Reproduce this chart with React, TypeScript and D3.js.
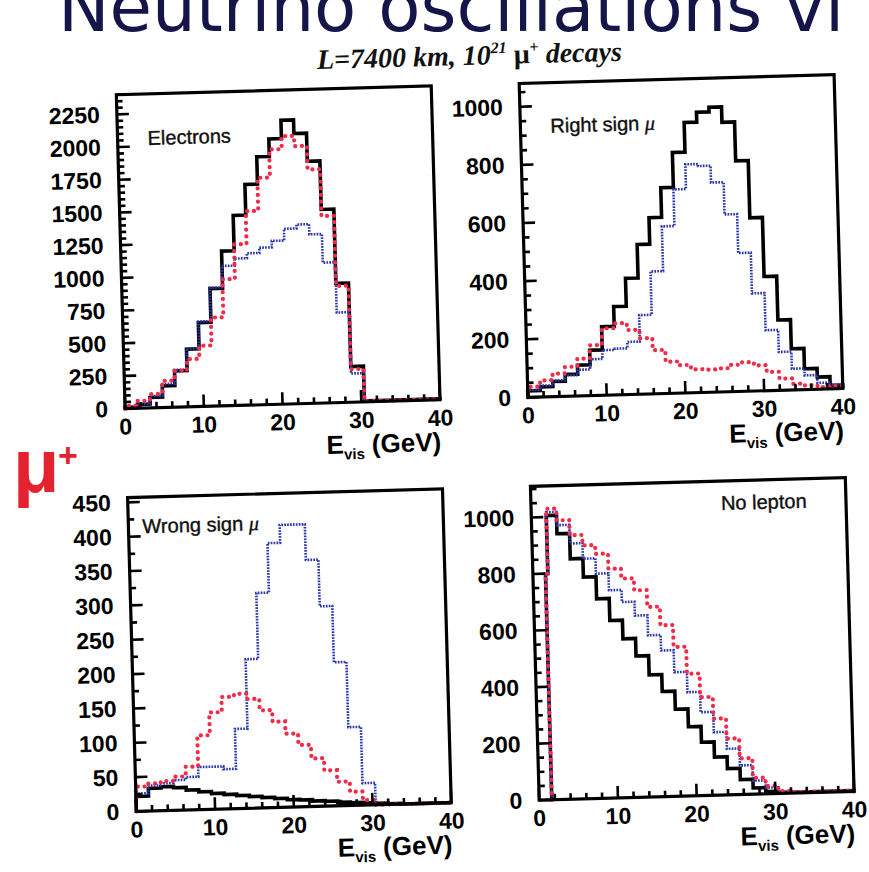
import React from "react";
import * as d3 from "d3";

const WIDTH = 869;
const HEIGHT = 872;

// Visible-energy binning (GeV): 25 bins of 1.6 GeV
const binEdges = [
  0, 1.6, 3.2, 4.8, 6.4, 8, 9.6, 11.2, 12.8, 14.4, 16, 17.6, 19.2, 20.8, 22.4,
  24, 25.6, 27.2, 28.8, 30.4, 32, 33.6, 35.2, 36.8, 38.4, 40,
];
// No-lepton histograms start above threshold with a narrow first bin
const noLeptonEdges = [
  1.6, 1.9, 3.2, 4.8, 6.4, 8, 9.6, 11.2, 12.8, 14.4, 16, 17.6, 19.2, 20.8, 22.4,
  24, 25.6, 27.2, 28.8, 30.4, 32, 33.6, 35.2, 36.8, 38.4, 40,
];

const xTicks = [0, 10, 20, 30, 40];
const electronsYTicks = [0, 250, 500, 750, 1000, 1250, 1500, 1750, 2000, 2250];
const rightSignYTicks = [0, 200, 400, 600, 800, 1000];
const wrongSignYTicks = [0, 50, 100, 150, 200, 250, 300, 350, 400, 450];
const noLeptonYTicks = [0, 200, 400, 600, 800, 1000];

// Electrons
const electronsSolid = [10, 30, 80, 166, 278, 441, 641, 899, 1183, 1453, 1687, 1896, 2030, 2170, 2066, 1851, 1480, 912, 274, 8, 8, 8, 8, 8, 8];
const electronsRed = [21, 56, 105, 204, 278, 365, 464, 677, 967, 1232, 1483, 1735, 1949, 2048, 1969, 1788, 1429, 892, 253, 5, 5, 5, 5, 5, 5];
const electronsBlue = [12, 32, 90, 180, 285, 445, 650, 905, 1069, 1123, 1161, 1201, 1250, 1340, 1370, 1292, 1073, 689, 220, 5, 5, 5, 5, 5, 5];

// Right sign muons
const rightSignSolid = [22, 35, 52, 75, 106, 156, 236, 304, 400, 515, 606, 708, 828, 930, 964, 980, 927, 793, 596, 393, 242, 142, 72, 42, 12];
const rightSignRed = [36, 57, 79, 101, 128, 173, 230, 246, 222, 192, 150, 109, 96, 80, 78, 81, 92, 100, 88, 64, 40, 21, 14, 7, 10];
const rightSignBlue = [25, 39, 55, 72, 90, 125, 155, 159, 181, 272, 421, 575, 701, 786, 779, 721, 610, 476, 336, 208, 132, 73, 49, 22, 15];

// Wrong sign muons
const wrongSignSolid = [22, 33, 35, 33, 29, 26, 23, 21, 19, 17, 15, 13, 11, 10, 8, 7, 5, 4, 3, 2, 1, 0, 0, 0, 0];
const wrongSignRed = [36, 40, 43, 49, 63, 108, 141, 163, 167, 159, 142, 125, 107, 90, 70, 52, 35, 20, 7, 0, 0, 0, 0, 0, 0];
const wrongSignBlue = [26, 37, 40, 44, 48, 62, 62, 58, 116, 217, 313, 385, 411, 411, 359, 291, 209, 114, 32, 0, 0, 0, 0, 0, 0];

// No lepton
const noLeptonSolid = [800, 1005, 940, 850, 784, 706, 628, 562, 500, 432, 372, 308, 245, 189, 135, 93, 53, 22, 8, 3, 3, 3, 3, 3, 3];
const noLeptonRed = [800, 1029, 987, 933, 896, 865, 811, 775, 732, 672, 606, 528, 432, 348, 271, 199, 128, 58, 28, 8, 3, 3, 3, 3, 3];
const noLeptonBlue = [800, 1017, 970, 904, 849, 795, 735, 692, 643, 572, 517, 439, 367, 295, 223, 163, 103, 48, 22, 6, 3, 3, 3, 3, 3];

const SANS = "'Liberation Sans', Arial, Helvetica, sans-serif";
const SERIF = "'Liberation Serif', 'Times New Roman', serif";
const BLUE = "#2a37ad";
const RED = "#ee2d4a";

const PANEL_W = 315;
const PANEL_H = 314;

type PanelProps = {
  left: number;
  top: number;
  yMax: number;
  yTicks: number[];
  yMinorStep: number;
  edges: number[];
  solid: number[];
  red: number[];
  blue: number[];
  label: React.ReactNode;
  labelX: number;
  labelY: number;
};

function Panel(p: PanelProps) {
  const x = d3.scaleLinear().domain([0, 40]).range([0, PANEL_W]);
  const y = d3.scaleLinear().domain([0, p.yMax]).range([PANEL_H, 0]);

  const step = d3
    .line<[number, number]>()
    .x((d) => x(d[0]))
    .y((d) => y(d[1]))
    .curve(d3.curveStepAfter);

  const outline = (vals: number[]) => {
    const pts: [number, number][] = [[p.edges[0], 0]];
    vals.forEach((v, i) => pts.push([p.edges[i], v]));
    pts.push([p.edges[p.edges.length - 1], 0]);
    return step(pts) || "";
  };

  const yMinor = d3.range(0, p.yMax + 1e-9, p.yMinorStep);
  const xMinor = d3.range(0, 40 + 1e-9, 2);

  return (
    <g transform={`translate(${p.left},${p.top})`}>
      <path d={outline(p.solid)} fill="none" stroke="#000" strokeWidth={3.6} strokeLinejoin="miter" />
      <path d={outline(p.blue)} fill="none" stroke={BLUE} strokeWidth={2.6} strokeDasharray="1.7 1.2" />
      <path
        d={outline(p.red)}
        fill="none"
        stroke={RED}
        strokeWidth={4.2}
        strokeLinecap="round"
        strokeDasharray="0.1 6.6"
      />

      {/* ticks drawn inside the frame */}
      {yMinor.map((v) => {
        const major = p.yTicks.some((t) => Math.abs(t - v) < 1e-6);
        return (
          <line key={`ym${v}`} x1={0} x2={major ? 12 : 6} y1={y(v)} y2={y(v)} stroke="#000" strokeWidth={2.6} />
        );
      })}
      {xMinor.map((v) => {
        const major = xTicks.includes(v);
        return (
          <line key={`xm${v}`} x1={x(v)} x2={x(v)} y1={PANEL_H} y2={PANEL_H - (major ? 12 : 6)} stroke="#000" strokeWidth={2.6} />
        );
      })}

      <rect x={0} y={0} width={PANEL_W} height={PANEL_H} fill="none" stroke="#000" strokeWidth={3.2} />

      {p.yTicks.map((t) => (
        <text
          key={`yl${t}`}
          x={-17}
          y={y(t) + 8}
          textAnchor="end"
          fontFamily={SANS}
          fontWeight="bold"
          fontSize={23}
          fill="#000"
        >
          {t}
        </text>
      ))}
      {xTicks.map((t) => (
        <text
          key={`xl${t}`}
          x={x(t)}
          y={PANEL_H + 26}
          textAnchor="middle"
          fontFamily={SANS}
          fontWeight="bold"
          fontSize={23}
          fill="#000"
        >
          {t}
        </text>
      ))}
      <text
        x={PANEL_W}
        y={PANEL_H + 51}
        textAnchor="end"
        fontFamily={SANS}
        fontWeight="bold"
        fontSize={26}
        fill="#000"
      >
        E
        <tspan fontSize={15} dy={6}>
          vis
        </tspan>
        <tspan dy={-6}> (GeV)</tspan>
      </text>

      <text
        x={p.labelX}
        y={p.labelY}
        fontFamily={SANS}
        fontSize={20}
        fill="#111"
        stroke="#111"
        strokeWidth={0.4}
      >
        {p.label}
      </text>
    </g>
  );
}

export default function App() {
  const colX = [126, 529];
  const rowY = [86, 489];
  const mu = (
    <tspan fontStyle="italic" fontFamily={SERIF}>
      μ
    </tspan>
  );

  return (
    <svg
      width={WIDTH}
      height={HEIGHT}
      viewBox={`0 0 ${WIDTH} ${HEIGHT}`}
      style={{ position: "absolute", left: 0, top: 0, background: "#fff", overflow: "hidden" }}
    >
      <rect x={0} y={0} width={WIDTH} height={HEIGHT} fill="#fff" />

      {/* slide heading, running off the top edge */}
      <text x={58} y={31} fontFamily="'DejaVu Sans', Verdana, sans-serif" fontSize={69} fill="#15154a">
        Neutrino oscillations vi
      </text>

      {/* beam charge tag */}
      <text x={13} y={492} fontFamily={SANS} fontSize={76} fontWeight="bold" fill="#e3232f">
        μ
      </text>
      <text x={58} y={467} fontFamily={SANS} fontSize={34} fontWeight="bold" fill="#e3232f">
        +
      </text>

      <g transform={`rotate(-1.6, 434, 436)`}>
        <text
          x={480}
          y={66}
          textAnchor="middle"
          fontFamily={SERIF}
          fontWeight="bold"
          fontStyle="italic"
          fontSize={28}
          fill="#111"
        >
          L=7400 km, 10
          <tspan fontSize={16} dy={-11}>
            21
          </tspan>
          <tspan dy={11}> </tspan>
          <tspan fontStyle="normal">μ</tspan>
          <tspan fontSize={16} dy={-11}>
            +
          </tspan>
          <tspan dy={11}> decays</tspan>
        </text>

        <Panel
          left={colX[0]}
          top={rowY[0]}
          yMax={2400}
          yTicks={electronsYTicks}
          yMinorStep={50}
          edges={binEdges}
          solid={electronsSolid}
          red={electronsRed}
          blue={electronsBlue}
          label="Electrons"
          labelX={30}
          labelY={51}
        />
        <Panel
          left={colX[1]}
          top={rowY[0]}
          yMax={1080}
          yTicks={rightSignYTicks}
          yMinorStep={50}
          edges={binEdges}
          solid={rightSignSolid}
          red={rightSignRed}
          blue={rightSignBlue}
          label={<>Right sign {mu}</>}
          labelX={30}
          labelY={50}
        />
        <Panel
          left={colX[0]}
          top={rowY[1]}
          yMax={457}
          yTicks={wrongSignYTicks}
          yMinorStep={25}
          edges={binEdges}
          solid={wrongSignSolid}
          red={wrongSignRed}
          blue={wrongSignBlue}
          label={<>Wrong sign {mu}</>}
          labelX={14}
          labelY={36}
        />
        <Panel
          left={colX[1]}
          top={rowY[1]}
          yMax={1110}
          yTicks={noLeptonYTicks}
          yMinorStep={50}
          edges={noLeptonEdges}
          solid={noLeptonSolid}
          red={noLeptonRed}
          blue={noLeptonBlue}
          label="No lepton"
          labelX={190}
          labelY={29}
        />
      </g>
    </svg>
  );
}
